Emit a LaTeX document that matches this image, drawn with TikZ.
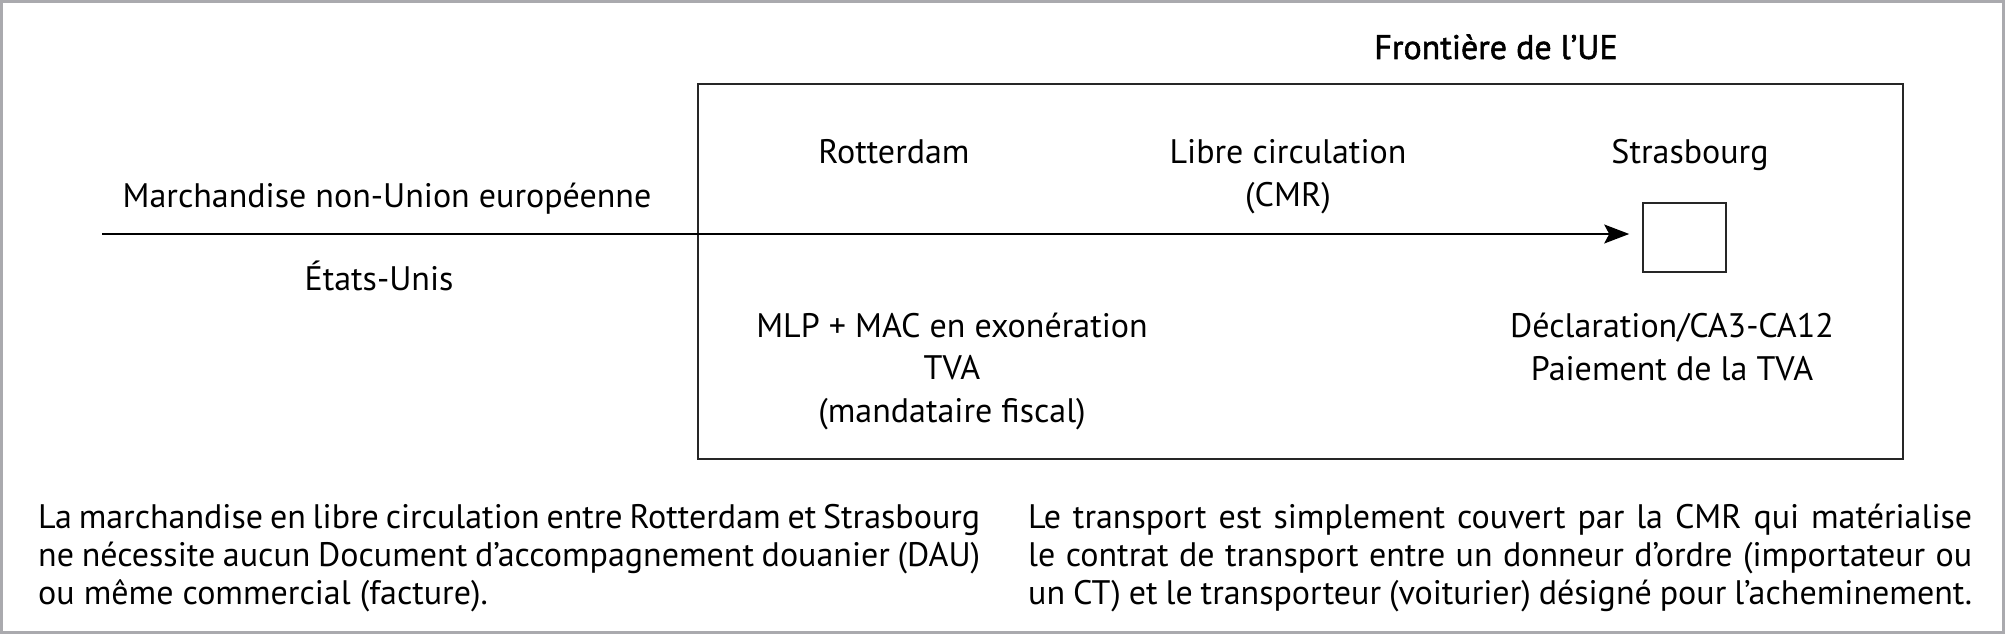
\documentclass[tikz,border=0pt]{standalone}
\usepackage{fontspec}
\setmainfont{PT Sans}
\newfontfamily\titlefont[FakeBold=1.6]{PT Sans}
\usetikzlibrary{arrows.meta}
\begin{document}
\begin{tikzpicture}[x=1pt,y=-1pt,
  lbl/.style={anchor=base,inner sep=0pt,font=\fontsize{34}{42.5}\selectfont,align=center},
  para/.style={anchor=north west,inner sep=0pt,font=\fontsize{34}{38}\selectfont,align=justify},
  flow/.style={line width=1.5pt,-{Stealth[length=25pt,width=19pt,inset=5pt]}},
  frame/.style={line width=1.6pt,draw=black!85}]
\useasboundingbox (0,0) rectangle (2008,634);
\draw[line width=3pt,draw={rgb,255:red,170;green,170;blue,174}] (1.5,1.5) rectangle (2003.5,632.5);
% EU border box
\node[frame,draw,minimum width=1205pt,minimum height=375pt,inner sep=0pt,anchor=north west] (ue) at (697,83) {};
\node[lbl,font=\fontsize{34}{42}\selectfont\titlefont] (title) at (1496,59) {Frontière de l’UE};
% labels (anchor = baseline of last line)
\node[lbl] (rot) at (894,163) {Rotterdam};
\node[lbl] (libre) at (1288,206) {Libre circulation\\(CMR)};
\node[lbl] (stras) at (1690,163) {Strasbourg};
\node[lbl] (march) at (387,207) {Marchandise non-Union européenne};
\node[lbl] (usa) at (379,290) {États-Unis};
\node[lbl] (mlp) at (952,422) {MLP + MAC en exonération\\TVA\\(mandataire fiscal)};
\node[lbl] (decl) at (1672,380) {Déclaration/CA3-CA12\\Paiement de la TVA};
% destination square
\node[frame,draw,minimum width=83pt,minimum height=69pt,inner sep=0pt] (sq) at (1684.5,237.5) {};
\coordinate (start) at (102,234);
\draw[flow,shorten >=13pt] (start) -- (start -| sq.west);
% bottom paragraphs
\node[para,text width=942pt] (pl) at (38,504) {La marchandise en libre circulation entre Rotterdam et Strasbourg\linebreak ne nécessite aucun Document d’accompagnement douanier (DAU)\linebreak ou même commercial (facture).};
\node[para,text width=944pt] (pr) at (1028,504) {Le transport est simplement couvert par la CMR qui matérialise\linebreak le contrat de transport entre un donneur d’ordre (importateur ou\linebreak un CT) et le transporteur (voiturier) désigné pour l’acheminement.};
\end{tikzpicture}
\end{document}
